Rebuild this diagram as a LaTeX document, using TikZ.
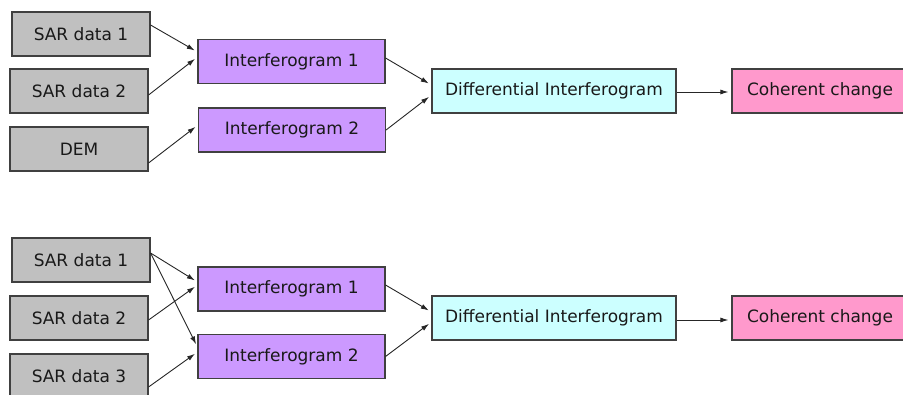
\documentclass[tikz,border=0pt]{standalone}
\usepackage{fontspec}
\setsansfont{DejaVu Sans}
\usepackage{tikz}
\usetikzlibrary{arrows.meta,calc}
\definecolor{sargray}{RGB}{192,192,192}
\definecolor{ifgpurple}{RGB}{204,153,255}
\definecolor{difcyan}{RGB}{204,255,255}
\definecolor{cohpink}{RGB}{255,153,204}

\begin{document}
\begin{tikzpicture}[x=1pt,y=1pt,
  box/.style={draw=black!75, line width=1.1pt, inner sep=0pt, minimum height=44pt,
    text=black!90, font=\sffamily\fontsize{17}{20}\selectfont},
  sar/.style={box, fill=sargray, minimum width=138pt},
  ifg/.style={box, fill=ifgpurple, minimum width=187pt},
  dif/.style={box, fill=difcyan, minimum width=244pt},
  coh/.style={box, fill=cohpink, minimum width=176pt},
  link/.style={-{Latex[length=8pt,width=5pt]}, line width=0.9pt, black!85, shorten >=3pt}]
\useasboundingbox (0,0) rectangle (903,-394);
\clip (0,0) rectangle (903,-394);
% top: SAR pair + DEM
\node[sar] (sar1a) at (81,-34) {SAR data 1};
\node[sar] (sar2a) at (79,-91) {SAR data 2};
\node[sar] (dema) at (79,-149) {DEM};
\node[ifg] (int1a) at (291.5,-61.5) {Interferogram 1};
\node[ifg] (int2a) at (292,-130) {Interferogram 2};
\node[dif] (diffa) at (554,-91) {Differential Interferogram};
\node[coh] (coha) at (820,-91) {Coherent change};
\draw[link] ([yshift=9pt]sar1a.east) -- ([yshift=9.5pt]int1a.west);
\draw[link] ([yshift=-4pt]sar2a.east) -- ([yshift=4.5pt]int1a.west);
\draw[link] ([yshift=-14pt]dema.east) -- ([yshift=5pt]int2a.west);
\draw[link] ([yshift=3.5pt]int1a.east) -- ([yshift=6pt]diffa.west);
\draw[link] (int2a.east) -- ([yshift=-4pt]diffa.west);
\draw[link] ([yshift=-1pt]diffa.east) -- ([yshift=-1pt]coha.west);
% bottom: three SAR scenes
\node[sar] (sar1b) at (81,-260) {SAR data 1};
\node[sar] (sar2b) at (79,-318) {SAR data 2};
\node[sar] (sar3b) at (79,-376) {SAR data 3};
\node[ifg] (int1b) at (291.5,-289) {Interferogram 1};
\node[ifg] (int2b) at (291.5,-356.5) {Interferogram 2};
\node[dif] (diffb) at (554,-318) {Differential Interferogram};
\node[coh] (cohb) at (820,-318) {Coherent change};
\draw[link] ([yshift=7pt]sar1b.east) -- ([yshift=7pt]int1b.west);
\draw[link] ([yshift=7pt]sar1b.east) -- ([yshift=9.5pt]int2b.west);
\draw[link] ([yshift=-2pt]sar2b.east) -- ([yshift=4pt]int1b.west);
\draw[link] ([yshift=-11pt]sar3b.east) -- ([yshift=4.5pt]int2b.west);
\draw[link] ([yshift=4pt]int1b.east) -- ([yshift=6pt]diffb.west);
\draw[link] (int2b.east) -- ([yshift=-4pt]diffb.west);
\draw[link] ([yshift=-2pt]diffb.east) -- ([yshift=-2pt]cohb.west);
\end{tikzpicture}
\end{document}
